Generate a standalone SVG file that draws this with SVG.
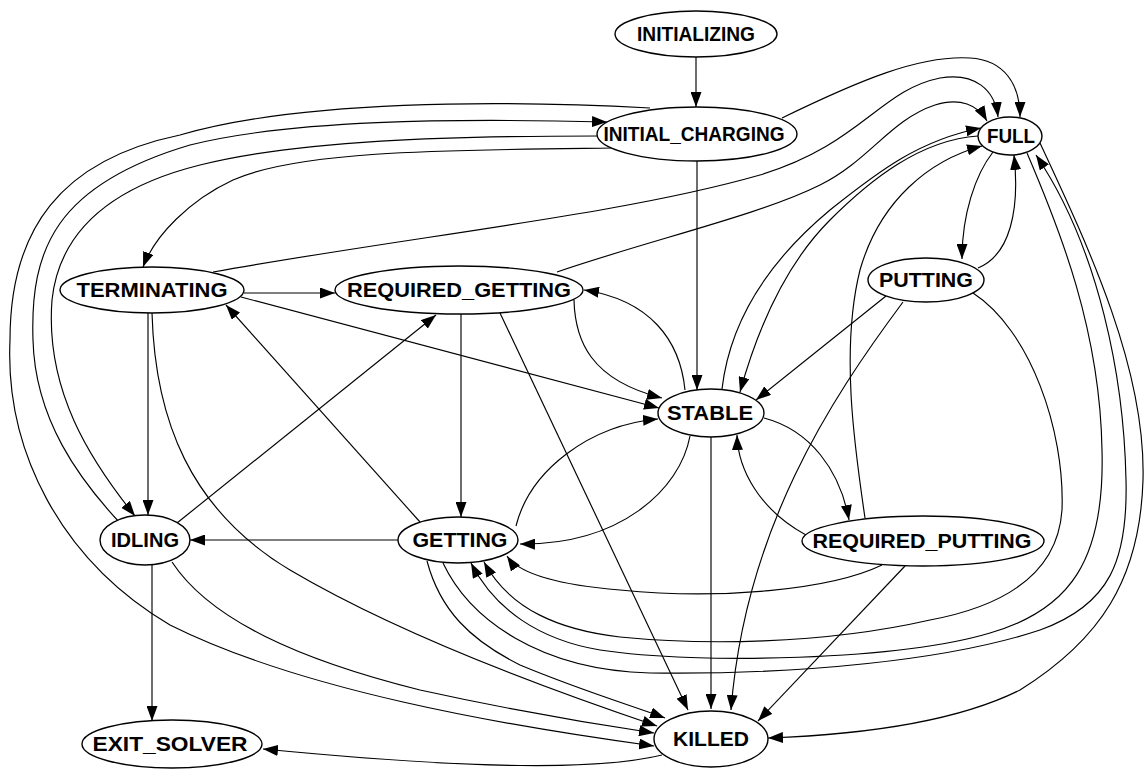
<svg xmlns="http://www.w3.org/2000/svg" width="1146" height="769" viewBox="0 0 1146 769">
<defs>
<marker id="ah" viewBox="0 0 15 11" refX="15" refY="5.5" markerWidth="15" markerHeight="11" markerUnits="userSpaceOnUse" orient="auto"><path d="M0,0 L15,5.5 L0,11 z" fill="#000"/></marker>
</defs>
<style>
.e{fill:none;stroke:#000;stroke-width:1.15;marker-end:url(#ah)}
.n ellipse{fill:#fff;stroke:#000;stroke-width:1.4}
.n text{font-family:"Liberation Sans",Arial,sans-serif;font-weight:bold;font-size:21px;fill:#000;text-anchor:middle}
</style>
<rect width="1146" height="769" fill="#fff"/>
<g id="connectors">
<path class="e" d="M696,57 L696,107"/>
<path class="e" d="M697,161 L697,390"/>
<path class="e" d="M782,118 C860,80 920,55 970,58 C1005,60 1020,85 1020,117"/>
<path class="e" d="M612,148 C450,150 300,150 233,180 C190,200 155,235 143,267"/>
<path class="e" d="M598,136 C450,136 300,140 200,165 C120,185 60,225 52,300 C45,390 90,460 135,516"/>
<path class="e" d="M120,523 C80,480 35,420 33,340 C30,250 55,185 190,145 C290,120 450,118 607,122"/>
<path class="e" d="M650,108 C500,100 300,100 180,135 C60,160 10,230 10,340 C5,450 60,560 170,625 C300,690 500,725 654,746"/>
<path class="e" d="M213,272 C420,235 620,215 760,175 C860,145 880,90 940,78 C975,72 995,90 998,117"/>
<path class="e" d="M557,272 C650,240 760,215 820,185 C870,160 890,120 935,105 C960,97 978,105 987,121"/>
<path class="e" d="M722,389 C730,320 770,260 830,210 C880,170 920,140 981,128"/>
<path class="e" d="M978,136 C920,140 870,180 830,220 C790,260 760,320 740,392"/>
<path class="e" d="M865,518 C855,450 840,350 860,270 C880,200 930,160 982,146"/>
<path class="e" d="M993,152 C975,175 962,215 962,259"/>
<path class="e" d="M978,268 C1010,255 1020,210 1014,155"/>
<path class="e" d="M886,296 L756,400"/>
<path class="e" d="M903,302 C830,400 745,530 731,710"/>
<path class="e" d="M973,293 C1030,330 1065,430 1062,510 C1058,570 1010,605 930,620 C820,645 700,645 620,637 C560,630 510,610 484,562"/>
<path class="e" d="M1027,153 C1060,230 1100,330 1102,450 C1105,560 1070,610 990,633 C900,660 700,665 600,650 C540,640 495,610 471,563"/>
<path class="e" d="M443,563 C470,620 540,670 650,673 C800,675 950,660 1040,630 C1110,605 1128,560 1126,480 C1124,380 1100,250 1036,155"/>
<path class="e" d="M1040,143 C1090,250 1146,370 1143,480 C1140,580 1100,640 1020,690 C950,725 850,735 768,738"/>
<path class="e" d="M427,561 C440,610 470,640 520,665 C580,690 630,705 665,718"/>
<path class="e" d="M152,313 C155,420 190,510 290,570 C400,635 550,690 657,726"/>
<path class="e" d="M172,562 C210,620 300,660 420,690 C520,712 600,725 654,733"/>
<path class="e" d="M241,297 L659,408"/>
<path class="e" d="M244,293 L335,293"/>
<path class="e" d="M148,313 L148,515"/>
<path class="e" d="M177,523 L436,315"/>
<path class="e" d="M420,522 L226,305"/>
<path class="e" d="M398,540 L190,540"/>
<path class="e" d="M461,314 L461,517"/>
<path class="e" d="M500,313 L688,710"/>
<path class="e" d="M711,437 L711,709"/>
<path class="e" d="M905,566 L758,721"/>
<path class="e" d="M574,300 C575,340 590,380 662,398"/>
<path class="e" d="M685,390 C680,340 650,300 584,290"/>
<path class="e" d="M516,526 C530,470 590,425 658,419"/>
<path class="e" d="M690,436 C680,490 620,545 520,544"/>
<path class="e" d="M764,418 C810,430 840,470 849,520"/>
<path class="e" d="M806,535 C760,510 738,470 737,435"/>
<path class="e" d="M882,565 C830,590 720,600 620,590 C560,585 520,575 507,556"/>
<path class="e" d="M662,755 C600,770 480,770 263,749"/>
<path class="e" d="M152,565 L152,721"/>
</g>
<g id="INITIALIZING" class="n"><ellipse cx="696" cy="34" rx="81" ry="23"/><text x="696" y="41" textLength="118" lengthAdjust="spacingAndGlyphs">INITIALIZING</text></g>
<g id="INITIAL_CHARGING" class="n"><ellipse cx="697" cy="134" rx="100" ry="27"/><text x="694" y="141" textLength="181" lengthAdjust="spacingAndGlyphs">INITIAL_CHARGING</text></g>
<g id="FULL" class="n"><ellipse cx="1010" cy="136" rx="32" ry="19"/><text x="1011" y="143" textLength="48" lengthAdjust="spacingAndGlyphs">FULL</text></g>
<g id="TERMINATING" class="n"><ellipse cx="152" cy="290" rx="92" ry="23"/><text x="152" y="297" textLength="151" lengthAdjust="spacingAndGlyphs">TERMINATING</text></g>
<g id="REQUIRED_GETTING" class="n"><ellipse cx="459" cy="290" rx="124" ry="24"/><text x="459" y="297" textLength="224" lengthAdjust="spacingAndGlyphs">REQUIRED_GETTING</text></g>
<g id="PUTTING" class="n"><ellipse cx="926" cy="280" rx="58" ry="22"/><text x="926" y="287" textLength="94" lengthAdjust="spacingAndGlyphs">PUTTING</text></g>
<g id="STABLE" class="n"><ellipse cx="711" cy="413" rx="53" ry="24"/><text x="710" y="420" textLength="86" lengthAdjust="spacingAndGlyphs">STABLE</text></g>
<g id="IDLING" class="n"><ellipse cx="145" cy="540" rx="45" ry="25"/><text x="145" y="547" textLength="68" lengthAdjust="spacingAndGlyphs">IDLING</text></g>
<g id="GETTING" class="n"><ellipse cx="458" cy="540" rx="60" ry="23"/><text x="460" y="547" textLength="95" lengthAdjust="spacingAndGlyphs">GETTING</text></g>
<g id="REQUIRED_PUTTING" class="n"><ellipse cx="923" cy="541" rx="121" ry="25"/><text x="922" y="548" textLength="219" lengthAdjust="spacingAndGlyphs">REQUIRED_PUTTING</text></g>
<g id="EXIT_SOLVER" class="n"><ellipse cx="172" cy="744" rx="90" ry="24"/><text x="170" y="751" textLength="155" lengthAdjust="spacingAndGlyphs">EXIT_SOLVER</text></g>
<g id="KILLED" class="n"><ellipse cx="711" cy="739" rx="57" ry="28"/><text x="711" y="746" textLength="76" lengthAdjust="spacingAndGlyphs">KILLED</text></g>
</svg>
